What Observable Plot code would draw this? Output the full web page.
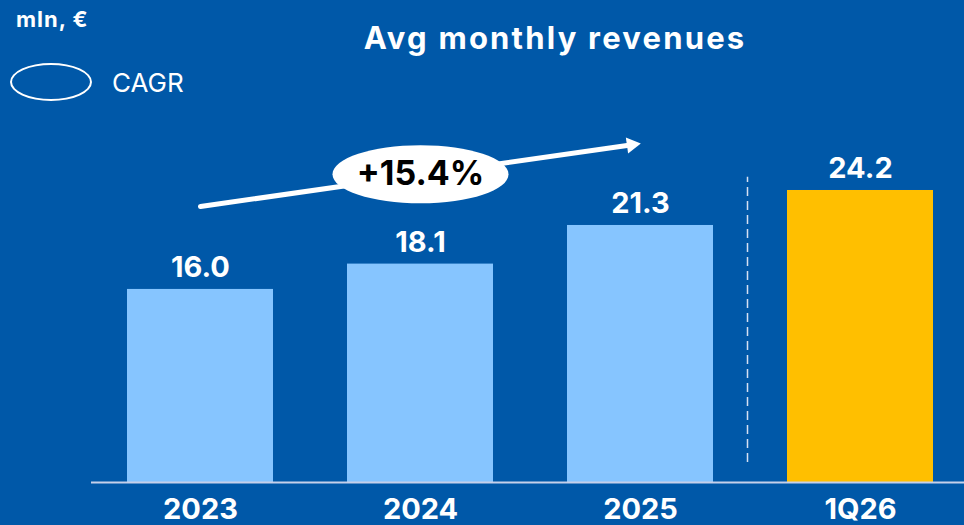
<!DOCTYPE html>
<html>
<head>
<meta charset="utf-8">
<script src="https://cdn.jsdelivr.net/npm/d3@7"></script>
<script src="https://cdn.jsdelivr.net/npm/@observablehq/plot@0.6"></script>
<style>
  html, body { margin: 0; padding: 0; background: #0058A8; }
  #wrap { position: relative; width: 964px; height: 525px; background: #0058A8; overflow: hidden; font-family: Inter, "Noto Sans", sans-serif; color: #fff; }
  #unit { position: absolute; left: 16px; top: 8px; font-size: 22px; font-weight: 700; letter-spacing: 1px; line-height: 1; white-space: nowrap; }
  #title { position: absolute; left: 555px; top: 22px; transform: translateX(-50%); font-size: 31px; font-weight: 700; letter-spacing: 2.2px; line-height: 1; white-space: nowrap; }
  #legend-shape { position: absolute; left: 10px; top: 63px; width: 82px; height: 38px; box-sizing: border-box; border: 2px solid #fff; border-radius: 50%; }
  #legend-label { position: absolute; left: 112px; top: 70px; font-size: 26px; font-weight: 400; line-height: 1; white-space: nowrap; }
  #chart { position: absolute; left: 0; top: 0; }
</style>
</head>
<body>
<div id="wrap">
  <div id="chart"></div>
  <div id="unit"></div>
  <div id="title"></div>
  <div id="legend-shape"></div>
  <div id="legend-label"></div>
</div>
<script>
// ---- data ----
const categories = ["2023", "2024", "2025", "1Q26"];
const values = [16.0, 18.1, 21.3, 24.2];
const barColors = ["#86C5FF", "#86C5FF", "#86C5FF", "#FFBF00"];
const cagrLabel = "+15.4%";
const cagrFrom = "2023";
const cagrTo = "2025";
const cagrMid = "2024";
const titleText = "Avg monthly revenues";
const unitText = "mln, €";
const legendText = "CAGR";

document.getElementById("title").textContent = titleText;
document.getElementById("unit").textContent = unitText;
document.getElementById("legend-label").textContent = legendText;

const rows = categories.map((c, i) => ({cat: c, value: values[i], color: barColors[i]}));

// ellipse symbol (wide) for the CAGR badge
const ellipseSymbol = (ratio) => ({
  draw(ctx, size) {
    const r = Math.sqrt(size / Math.PI);
    const rx = r, ry = r * ratio, k = 0.5523;
    ctx.moveTo(rx, 0);
    ctx.bezierCurveTo(rx, ry * k, rx * k, ry, 0, ry);
    ctx.bezierCurveTo(-rx * k, ry, -rx, ry * k, -rx, 0);
    ctx.bezierCurveTo(-rx, -ry * k, -rx * k, -ry, 0, -ry);
    ctx.bezierCurveTo(rx * k, -ry, rx, -ry * k, rx, 0);
    ctx.closePath();
  }
});

const arrowStart = 22.87, arrowEnd = 28.09, badgeY = 25.55;

const plot = Plot.plot({
  width: 964,
  height: 525,
  marginTop: 120,
  marginBottom: 43,
  marginLeft: 91,
  marginRight: 0,
  style: {background: "transparent", fontFamily: "Inter, 'Noto Sans', sans-serif", color: "#fff", overflow: "visible"},
  x: {domain: categories, range: [90, 970], paddingInner: 0.336, paddingOuter: 0.168, label: null},
  y: {domain: [0, 30], axis: null},
  marks: [
    Plot.barY(rows, {x: "cat", y: "value", fill: "color"}),
    Plot.ruleY([0], {stroke: "#C6D0EA", strokeWidth: 2}),
    Plot.ruleX(["1Q26"], {x: d => d, y1: 1.66, y2: 25.3, dx: -113, stroke: "#D5E0F2", strokeWidth: 1.5, strokeDasharray: "9,5"}),
    Plot.text(rows, {x: "cat", y: "value", text: d => d.value.toFixed(1), dy: -12, lineAnchor: "bottom", fill: "#fff", fontSize: 29, fontWeight: 700}),
    Plot.axisX({tickSize: 0, tickPadding: 16, fontSize: 29, fontWeight: 700, fill: "#fff", label: null}),
    // CAGR arrow
    Plot.arrow([{}], {x1: () => cagrFrom, y1: () => arrowStart, x2: () => cagrTo, y2: () => arrowEnd, stroke: "#fff", strokeWidth: 5, headLength: 0, insetEnd: 10}),
    Plot.dot([{}], {x: () => cagrTo, y: () => arrowEnd, dx: -8.9, dy: 1.3, symbol: "triangle", r: 6, fill: "#fff", stroke: "none", rotate: 81.85}),
    Plot.dot([{}], {x: () => cagrMid, y: () => badgeY, symbol: ellipseSymbol(0.33), r: 88, fill: "#fff", stroke: "none"}),
    Plot.text([cagrLabel], {x: () => cagrMid, y: () => badgeY, text: d => d, fill: "#000", fontSize: 34, fontWeight: 700})
  ]
});
document.getElementById("chart").appendChild(plot);
</script>
</body>
</html>
